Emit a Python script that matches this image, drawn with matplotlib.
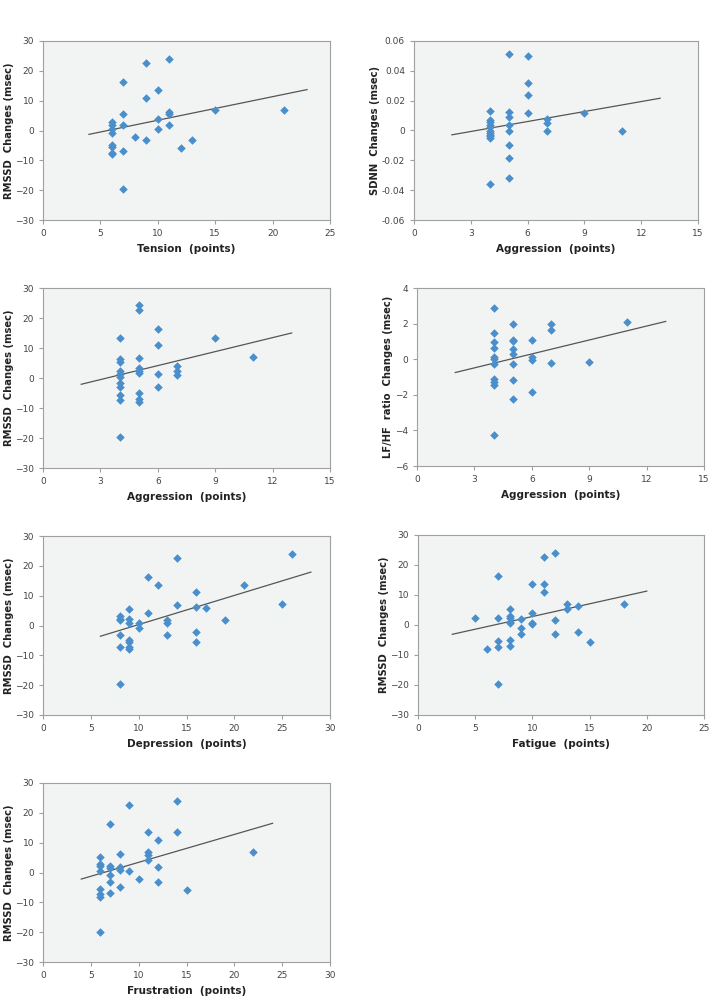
import numpy as np
import matplotlib
matplotlib.use("Agg")
import matplotlib.pyplot as plt

# panel 1: Tension vs RMSSD
tension_x = [6, 6, 6, 6, 6, 6, 6, 6, 7, 7, 7, 7, 7, 8, 9, 9, 9, 10, 10, 10,
             11, 11, 11, 11, 12, 13, 15, 21]
tension_y = [3, 2, 0.5, -1, -5, -5.5, -7.5, -8, 16.3, 5.4, 1.8, -6.9, -19.6, -2.1,
             22.5, 11, -3.2, 13.5, 4, 0.6, 24, 6.3, 5.5, 1.7, -5.7, -3.2, 6.8, 7]

# panel 2: Aggression vs SDNN
aggr_sdnn_x = [4, 4, 4, 4, 4, 4, 4, 4, 4, 4, 4, 5, 5, 5, 5, 5, 5, 5, 5,
               6, 6, 6, 6, 7, 7, 7, 9, 11]
aggr_sdnn_y = [0.013, 0.007, 0.006, 0.004, 0.0025, 0.0, -0.0015, -0.003, -0.004, -0.005, -0.036,
               0.051, 0.0127, 0.009, 0.0036, 0.0, -0.0098, -0.0183, -0.0317,
               0.050, 0.0317, 0.0236, 0.0116, 0.0076, 0.0051, 0.0, 0.0116, 0.0]

# panel 3: Aggression vs RMSSD
aggr_rmssd_x = [4, 4, 4, 4, 4, 4, 4, 4, 4, 4, 4, 5, 5, 5, 5, 5, 5, 5, 5, 5,
                6, 6, 6, 6, 7, 7, 7, 9, 11]
aggr_rmssd_y = [13.5, 6.3, 5.3, 2.3, 1.5, 0.5, -1.5, -3, -5.5, -7.3, -19.7,
                24.2, 22.5, 6.8, 3.3, 2.3, 1.8, -4.9, -7, -8.1,
                16.3, 10.9, 1.5, -3.1, 4.1, 2.5, 0.9, 13.5, 7]

# panel 4: Aggression vs LF/HF ratio
aggr_lfhf_x = [4, 4, 4, 4, 4, 4, 4, 4, 4, 4, 4, 5, 5, 5, 5, 5, 5, 5, 5,
               6, 6, 6, 6, 7, 7, 7, 9, 11]
aggr_lfhf_y = [2.85, 1.5, 0.95, 0.65, 0.15, 0.0, -0.25, -1.1, -1.3, -1.45, -4.25,
               2.0, 1.1, 1.03, 0.6, 0.28, -0.26, -1.16, -2.21,
               1.1, 0.15, -0.04, -1.84, 1.95, 1.63, -0.19, -0.13, 2.08]

# panel 5: Depression vs RMSSD
depr_x = [8, 8, 8, 8, 8, 8, 9, 9, 9, 9, 9, 9, 9, 10, 10, 11, 11, 12, 13, 13, 13,
          14, 14, 16, 16, 16, 16, 17, 19, 21, 25, 26]
depr_y = [3.1, 2.3, 1.8, -3.1, -7.1, -19.6, 5.4, 2.1, 0.7, -4.8, -5.5, -7.1, -7.9,
          1, -0.8, 16.4, 4.1, 13.7, 1.7, 0.7, -3.1, 22.6, 6.9, 11.1, 6.2, -2.1, -5.6,
          5.7, 1.9, 13.7, 7.1, 24.1]

# panel 6: Fatigue vs RMSSD
fatigue_x = [5, 6, 7, 7, 7, 7, 7, 8, 8, 8, 8, 8, 8, 8, 9, 9, 9, 10, 10, 10, 10,
             11, 11, 11, 12, 12, 12, 13, 13, 14, 14, 15, 18]
fatigue_y = [2.2, -8, 16.3, 2.3, -5.4, -7.2, -19.8, 5.3, 3.1, 2.2, 1.1, 0.6, -4.9, -6.9,
             1.9, -0.9, -3.1, 13.7, 4.1, 0.8, 0.4, 22.7, 13.7, 11.1, 24.1, 1.6, -3.1,
             6.9, 5.4, 6.4, -2.2, -5.8, 7.1]

# panel 7: Frustration vs RMSSD
frust_x = [6, 6, 6, 6, 6, 6, 6, 6, 7, 7, 7, 7, 7, 7, 8, 8, 8, 8, 9, 9, 10,
           11, 11, 11, 11, 12, 12, 12, 14, 14, 15, 22]
frust_y = [5.2, 2.9, 2.1, 0.6, -5.4, -7.2, -8.1, -19.8, 16.3, 2.1, 1.4, -1, -3.2, -7,
           6.2, 1.7, 0.8, -5, 22.5, 0.6, -2.2, 13.5, 6.8, 5.8, 4.3, 11, 1.8, -3.2,
           24, 13.5, -5.8, 7]

# trend lines as drawn (slope, intercept, x start, x end)
trends = [
    (0.79, -4.46, 4, 23),
    (0.00223, -0.00736, 2, 13),
    (1.555, -5.2, 2, 13),
    (0.261, -1.27, 2, 13),
    (0.977, -9.46, 6, 28),
    (0.847, -5.64, 3, 20),
    (0.935, -5.94, 4, 24),
]

xlabels = ["Tension  (points)", "Aggression  (points)", "Aggression  (points)",
           "Aggression  (points)", "Depression  (points)", "Fatigue  (points)",
           "Frustration  (points)"]
ylabels = ["RMSSD  Changes (msec)", "SDNN  Changes (msec)", "RMSSD  Changes (msec)",
           "LF/HF  ratio  Changes (msec)", "RMSSD  Changes (msec)", "RMSSD  Changes (msec)",
           "RMSSD  Changes (msec)"]
xlims = [(0, 25, 5), (0, 15, 3), (0, 15, 3), (0, 15, 3), (0, 30, 5), (0, 25, 5), (0, 30, 5)]
ylims = [(-30, 30, 10), (-0.06, 0.06, 0.02), (-30, 30, 10), (-6, 4, 2),
         (-30, 30, 10), (-30, 30, 10), (-30, 30, 10)]

xs = [tension_x, aggr_sdnn_x, aggr_rmssd_x, aggr_lfhf_x, depr_x, fatigue_x, frust_x]
ys = [tension_y, aggr_sdnn_y, aggr_rmssd_y, aggr_lfhf_y, depr_y, fatigue_y, frust_y]

# axes boxes in pixels: left, right, top, bottom
W, H = 710, 1006
boxes = [(43, 330, 41, 220), (414, 698, 41, 220),
         (43, 330, 288, 468), (417, 704, 288, 466),
         (43, 330, 536, 715), (418, 704, 535, 715),
         (43, 330, 783, 962)]

fig = plt.figure(figsize=(W / 100, H / 100), dpi=100)
fig.patch.set_facecolor("white")

for i in range(7):
    l, r, t, b = boxes[i]
    ax = fig.add_axes([l / W, 1 - b / H, (r - l) / W, (b - t) / H])
    ax.set_facecolor("#f2f4f4")
    ax.scatter(xs[i], ys[i], marker="D", s=19, color="#4a8fcb", zorder=3, linewidths=0)
    k, c, x0, x1 = trends[i]
    tx = np.array([x0, x1])
    ax.plot(tx, k * tx + c, color="#555555", lw=0.9, zorder=2)

    xmin, xmax, xstep = xlims[i]
    ymin, ymax, ystep = ylims[i]
    ax.set_xlim(xmin, xmax)
    ax.set_ylim(ymin, ymax)
    ax.set_xticks(np.arange(xmin, xmax + xstep / 2, xstep))
    yt = np.arange(ymin, ymax + ystep / 2, ystep)
    ax.set_yticks(yt)
    if i == 1:
        ax.set_yticklabels(["0" if abs(v) < 1e-9 else f"{v:.2f}" for v in yt])
    for s in ax.spines.values():
        s.set_color("#a0a0a0")
        s.set_linewidth(0.8)
    ax.tick_params(colors="#a0a0a0", labelcolor="#444444", labelsize=6.5,
                   length=3, width=0.8, direction="out")
    ax.set_xlabel(xlabels[i], fontsize=7.5, fontweight="bold", color="#222222", labelpad=4)
    ax.set_ylabel(ylabels[i], fontsize=7.2, fontweight="bold", color="#222222", labelpad=1)

fig.savefig("out.png", dpi=100)
